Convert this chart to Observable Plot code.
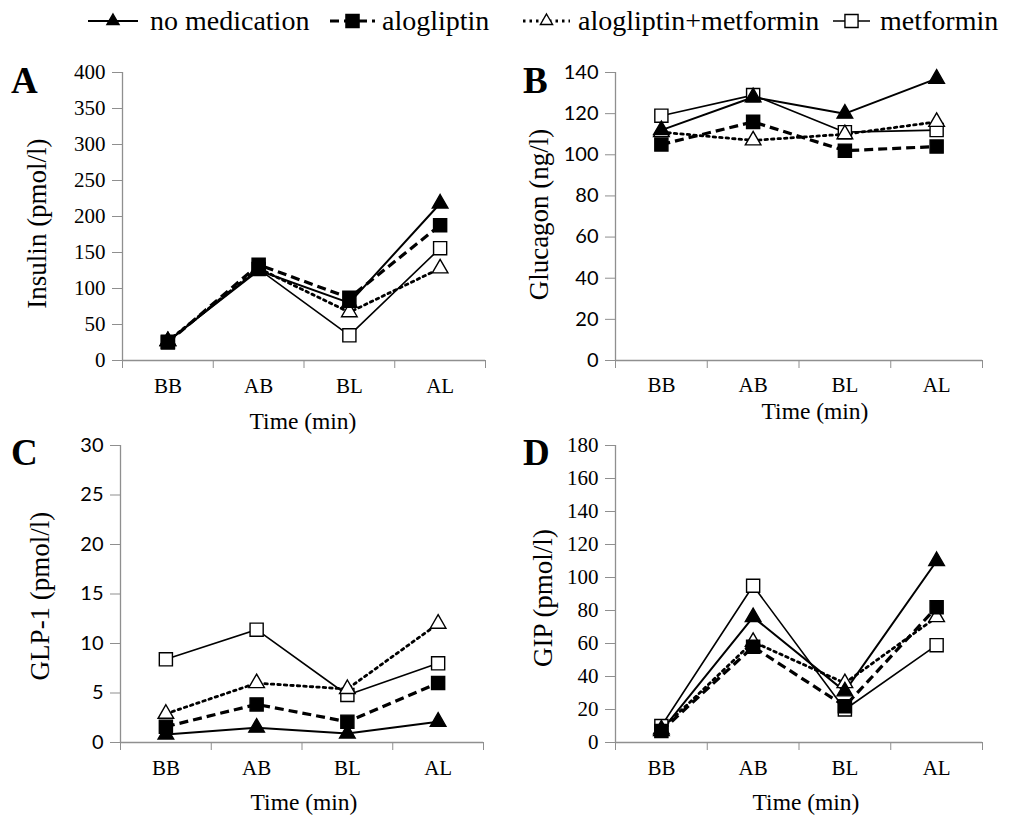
<!DOCTYPE html>
<html>
<head>
<meta charset="utf-8">
<script src="https://cdn.jsdelivr.net/npm/d3@7"></script>
<script src="https://cdn.jsdelivr.net/npm/@observablehq/plot@0.6"></script>
<style>
  body { margin: 0; background: #fff; font-family: "Liberation Serif", "Times New Roman", serif; }
  #root { position: relative; width: 1021px; height: 816px; overflow: hidden; }
  .panel { position: absolute; }
  .letter { position: absolute; font-weight: bold; font-size: 37px; line-height: 1.15; font-family: "Liberation Serif", serif; }
  .leg { position: absolute; top: 3px; display: flex; align-items: center; font-size: 28px; }
</style>
</head>
<body>
<div id="root"></div>
<script>
const times = ["BB", "AB", "BL", "AL"];
const groups = ["no medication", "alogliptin", "alogliptin+metformin", "metformin"];

// Panel A: Insulin (pmol/l)
const insulinNoMed   = [27, 125, 80, 218];
const insulinAlog    = [25, 133, 87, 188];
const insulinAlogMet = [27, 128, 67, 128];
const insulinMet     = [26, 127, 35, 156];

// Panel B: Glucagon (ng/l)
const glucagonNoMed   = [112, 128, 120, 137];
const glucagonAlog    = [105, 116, 102, 104];
const glucagonAlogMet = [111, 107, 110, 116];
const glucagonMet     = [119, 129, 111, 112];

// Panel C: GLP-1 (pmol/l)
const glp1NoMed   = [0.8, 1.5, 0.9, 2.1];
const glp1Alog    = [1.6, 3.85, 2.1, 6.0];
const glp1AlogMet = [2.9, 6.0, 5.4, 12.0];
const glp1Met     = [8.4, 11.4, 4.8, 8.0];

// Panel D: GIP (pmol/l)
const gipNoMed   = [7, 76, 31, 110];
const gipAlog    = [7, 58, 22, 82];
const gipAlogMet = [8, 61, 36, 76];
const gipMet     = [10, 95, 20, 59];

const styles = {
  "no medication":        {dash: null,    width: 2,   symbol: "triangle", fill: "black", r: 5.8},
  "alogliptin":           {dash: "9,5",   width: 3.2, symbol: "square",   fill: "black", r: 7.4},
  "alogliptin+metformin": {dash: "2.5,4", width: 2.8, symbol: "triangle", fill: "white", r: 5.8},
  "metformin":            {dash: null,    width: 1.6, symbol: "square",   fill: "white", r: 7.4}
};

const serif = '"Liberation Serif", "Times New Roman", serif';
const sans = 'Lato, "Open Sans", "Liberation Sans", sans-serif';
const root = document.getElementById("root");

function makePanel(cfg) {
  const seriesList = cfg.series;
  const rows = groups.flatMap((g, gi) => times.map((t, ti) => ({group: g, time: t, xi: ti + 0.5, value: seriesList[gi][ti]})));
  const drawOrder = ["metformin", "alogliptin+metformin", "alogliptin", "no medication"];
  const lineMarks = drawOrder.map(g => Plot.line(rows.filter(d => d.group === g), {
    x: "xi", y: "value", stroke: "black", strokeWidth: styles[g].width,
    strokeDasharray: styles[g].dash, strokeLinecap: styles[g].dash === "2.5,4" ? "round" : "butt"
  }));
  const dotMarks = drawOrder.map(g => Plot.dot(rows.filter(d => d.group === g), {
    x: "xi", y: "value", symbol: () => styles[g].symbol, r: styles[g].r,
    fill: styles[g].fill, stroke: "black", strokeWidth: 1.4
  }));
  const chart = Plot.plot({
    width: 510, height: cfg.height,
    marginTop: cfg.marginTop, marginBottom: cfg.marginBottom,
    marginLeft: cfg.marginLeft, marginRight: cfg.marginRight,
    style: {fontFamily: serif, fontSize: "21px", color: "black", background: "transparent", overflow: "visible"},
    x: {domain: [0, 4], axis: null},
    y: {domain: [0, cfg.yMax], axis: null},
    symbol: {type: "identity"},
    marks: [
      Plot.axisY({ticks: d3.range(0, cfg.yMax + 1e-9, cfg.yStep), tickSize: 10, tickPadding: 7, stroke: "#8f8f8f", label: null,
        fontSize: cfg.tickFontSize, fontFamily: cfg.tickFont}),
      Plot.axisX({ticks: [0, 1, 2, 3, 4], tickFormat: () => "", tickSize: 8, stroke: "#8f8f8f", label: null}),
      Plot.axisX({ticks: [0.5, 1.5, 2.5, 3.5], tickFormat: d => times[Math.floor(d)], tickSize: 0, tickPadding: cfg.xTickPad, label: null, fontSize: 21}),
      Plot.text([cfg.label], {frameAnchor: "left", rotate: -90, textAnchor: "middle", lineAnchor: "middle",
        dx: cfg.yTitleDx, dy: cfg.yTitleDy, fontSize: 27, fontFamily: serif}),
      Plot.text(["Time (min)"], {frameAnchor: "bottom", textAnchor: "middle", lineAnchor: "middle",
        dx: cfg.xTitleDx, dy: cfg.xTitleDy, fontSize: 23.5, fontFamily: serif}),
      Plot.ruleY([0], {stroke: "#8f8f8f", strokeWidth: 1.3}),
      Plot.ruleX([0], {stroke: "#8f8f8f", strokeWidth: 1.3}),
      ...lineMarks,
      ...dotMarks
    ]
  });
  const div = document.createElement("div");
  div.className = "panel";
  div.style.left = cfg.left + "px";
  div.style.top = cfg.top + "px";
  div.appendChild(chart);
  root.appendChild(div);
  const l = document.createElement("div");
  l.className = "letter";
  l.textContent = cfg.letter;
  l.style.left = cfg.letterX + "px";
  l.style.top = cfg.letterY + "px";
  root.appendChild(l);
}

makePanel({letter: "A", letterX: 11, letterY: 60, left: 0, top: 50, height: 380, marginTop: 22, marginBottom: 70, marginLeft: 122, marginRight: 25,
  yMax: 400, yStep: 50, label: "Insulin (pmol/l)", tickFont: serif, tickFontSize: 21, xTickPad: 18,
  yTitleDx: -85, yTitleDy: 7, xTitleDx: -1, xTitleDy: 61,
  series: [insulinNoMed, insulinAlog, insulinAlogMet, insulinMet]});
makePanel({letter: "B", letterX: 523, letterY: 60, left: 500, top: 50, height: 380, marginTop: 22, marginBottom: 70, marginLeft: 115, marginRight: 28,
  yMax: 140, yStep: 20, label: "Glucagon (ng/l)", tickFont: sans, tickFontSize: 20, xTickPad: 17,
  yTitleDx: -76, yTitleDy: -2, xTitleDx: 16, xTitleDy: 51,
  series: [glucagonNoMed, glucagonAlog, glucagonAlogMet, glucagonMet]});
makePanel({letter: "C", letterX: 11, letterY: 432, left: 0, top: 425, height: 391, marginTop: 20, marginBottom: 74, marginLeft: 120, marginRight: 27,
  yMax: 30, yStep: 5, label: "GLP-1 (pmol/l)", tickFont: sans, tickFontSize: 20, xTickPad: 18,
  yTitleDx: -80, yTitleDy: 2, xTitleDx: 2, xTitleDy: 60,
  series: [glp1NoMed, glp1Alog, glp1AlogMet, glp1Met]});
makePanel({letter: "D", letterX: 523, letterY: 432, left: 500, top: 425, height: 391, marginTop: 20, marginBottom: 74, marginLeft: 115, marginRight: 28,
  yMax: 180, yStep: 20, label: "GIP (pmol/l)", tickFont: serif, tickFontSize: 21, xTickPad: 18,
  yTitleDx: -72, yTitleDy: 4, xTitleDx: 7, xTitleDy: 60,
  series: [gipNoMed, gipAlog, gipAlogMet, gipMet]});

// Legend
const legendIconX = [88, 330, 523, 833];
const legendTextX = [150, 382, 578, 880];
const iconW = [50, 45, 47, 37];
groups.forEach((g, i) => {
  const s = styles[g];
  const item = document.createElement("div");
  item.className = "leg";
  item.style.left = legendIconX[i] + "px";
  const w = iconW[i], h = 36, cx = w / 2, cy = h / 2;
  const ns = "http://www.w3.org/2000/svg";
  const svg = document.createElementNS(ns, "svg");
  svg.setAttribute("width", w); svg.setAttribute("height", h);
  svg.style.marginRight = (legendTextX[i] - legendIconX[i] - w) + "px";
  const line = document.createElementNS(ns, "line");
  line.setAttribute("x1", 0); line.setAttribute("x2", w); line.setAttribute("y1", cy); line.setAttribute("y2", cy);
  line.setAttribute("stroke", "black"); line.setAttribute("stroke-width", s.width);
  if (s.dash) line.setAttribute("stroke-dasharray", s.dash);
  svg.appendChild(line);
  const sym = document.createElementNS(ns, "path");
  const symType = s.symbol === "square" ? d3.symbolSquare : d3.symbolTriangle2;
  sym.setAttribute("d", d3.symbol(symType, Math.PI * s.r * s.r)());
  sym.setAttribute("transform", `translate(${cx},${cy})`);
  sym.setAttribute("fill", s.fill); sym.setAttribute("stroke", "black"); sym.setAttribute("stroke-width", 1.4);
  svg.appendChild(sym);
  item.appendChild(svg);
  const txt = document.createElement("span");
  txt.textContent = g;
  item.appendChild(txt);
  root.appendChild(item);
});
</script>
</body>
</html>
